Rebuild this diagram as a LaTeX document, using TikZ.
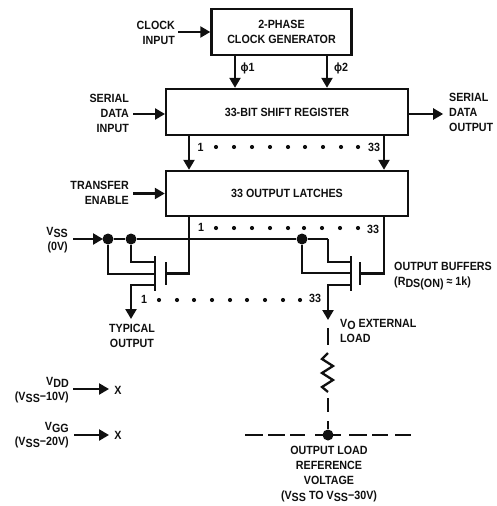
\documentclass[tikz,border=0pt]{standalone}
\usepackage{fontspec}
\setmainfont{Liberation Sans}[FakeStretch=0.9]
\usetikzlibrary{arrows.meta}
\definecolor{ink}{HTML}{101010}
\newcommand{\sbs}[1]{\raisebox{-2.4pt}{#1}}
\tikzset{
  lab/.style={font=\fontsize{11.9}{15}\selectfont\bfseries,text=ink,inner sep=0pt,align=center},
  labr/.style={lab,align=right,anchor=east},
  labl/.style={lab,align=left,anchor=west},
  block/.style={draw=ink,line width=2.4pt,fill=white,inner sep=0pt,font=\fontsize{11.9}{15}\selectfont\bfseries,text=ink,align=center},
  wire/.style={draw=ink,line width=2.3pt},
  arr/.style={wire,-{Triangle[length=10pt,width=11pt]}},
  bar/.style={draw=ink,line width=2.4pt},
  junc/.style={circle,fill=ink,inner sep=0pt,minimum size=11pt},
  bead/.style={circle,fill=ink,inner sep=0pt,minimum size=4.2pt}
}
\begin{document}
\begin{tikzpicture}[x=1pt,y=-1pt]
\useasboundingbox (0,0) rectangle (497,506);
% blocks
\node[block,minimum width=140pt,minimum height=46pt] (clk) at (281.5,32) {2-PHASE\\CLOCK GENERATOR};
\node[block,minimum width=242pt,minimum height=46pt] (sr) at (287,112) {33-BIT SHIFT REGISTER};
\node[block,minimum width=242pt,minimum height=45pt] (lat) at (287,193.5) {33 OUTPUT LATCHES};
% input / output labels
\node[labr] (clkin) at (175,33) {CLOCK\\INPUT};
\node[labr] (sdi) at (129,113) {SERIAL\\DATA\\INPUT};
\node[labl] (sdo) at (449,112) {SERIAL\\DATA\\OUTPUT};
\node[labr] (te) at (129,192.5) {TRANSFER\\ENABLE};
\node[labr] (vss) at (68,240) {V\sbs{SS}\\(0V)};
\node[lab] (typ) at (132,335.5) {TYPICAL\\OUTPUT};
\node[labl] (obuf) at (394,276) {OUTPUT BUFFERS\\(R\sbs{DS(ON)} ≈ 1k)};
\node[labl] (ext) at (340,330.5) {V\sbs{O} EXTERNAL\\LOAD};
\node[labr] (vdd) at (69,390) {V\sbs{DD}\\(V\sbs{SS}−10V)};
\node[labr] (vgg) at (69,435) {V\sbs{GG}\\(V\sbs{SS}−20V)};
\node[lab] (xa) at (118,390) {X};
\node[lab] (xb) at (118,435) {X};
\node[lab] (ref) at (329,474) {OUTPUT LOAD\\REFERENCE\\VOLTAGE\\(V\sbs{SS} TO V\sbs{SS}−30V)};
\node[lab] (p1) at (247.5,68) {ϕ1};
\node[lab] (p2) at (341,68) {ϕ2};
% block connectors
\draw[arr] (clkin.east |- clk.west) ++(3,0) -- (clk.west);
\draw[arr] (clk.south -| 235,0) -- (sr.north -| 235,0);
\draw[arr] (clk.south -| 327,0) -- (sr.north -| 327,0);
\draw[arr] (sdi.east |- sr.west) ++(4,2) -- ++(32,0);
\draw[arr] (sr.east) ++(0,2) -- ++(34,0);
\draw[arr] (te.east |- lat.west) ++(4,0) -- (lat.west);
\draw[arr] (sr.south -| 189,0) -- (lat.north -| 189,0);
\draw[arr] (sr.south -| 384,0) -- (lat.north -| 384,0);
% rail and transistors
\coordinate (railstart) at (73,239);
\node[junc] (ja) at (108,239) {};
\node[junc] (jb) at (131,239) {};
\node[junc] (jc) at (302,239) {};
\node[junc] (jd) at (328,435) {};
\coordinate (railend) at (328,239);
\draw[arr] (railstart) -- (103,239);
\draw[wire] (ja) -- (jb) -- (jc) -- (railend);
% left transistor
\coordinate (lch1) at (155,256); \coordinate (lch2) at (155,291);
\coordinate (lg1) at (166,262); \coordinate (lg2) at (166,285);
\draw[bar] (lch1) -- (lch2);
\draw[bar] (lg1) -- (lg2);
\draw[wire] (189,216) |- (166,273.5);
\draw[wire] (jb) |- (155,262);
\draw[wire] (ja) |- (155,274);
\draw[arr] (155,285) -| (131,319);
% right transistor
\coordinate (rch1) at (351,256); \coordinate (rch2) at (351,291);
\coordinate (rg1) at (360,262); \coordinate (rg2) at (360,285);
\draw[bar] (rch1) -- (rch2);
\draw[bar] (rg1) -- (rg2);
\draw[wire] (384,216) |- (360,273.5);
\draw[wire] (railend) |- (351,262);
\draw[wire] (jc) |- (351,273);
\draw[arr] (351,285) -| (328,320);
% load
\draw[wire] (328,328) -- (328,345);
\draw[wire] (328,353) -- (322,359) -- (333,366) -- (322,373) -- (333,380) -- (322,387) -- (328,392);
\draw[wire] (328,398) -- (328,412);
\draw[wire] (328,421) -- (jd);
\foreach \a/\b in {245/263,268/285,290/305,315/341,349/367,372/388,395/411}
  \draw[wire] (\a,435) -- (\b,435);
% supply arrows
\draw[arr] (73,389) -- (109,389);
\draw[arr] (74,435) -- (109,435);
% dot rows
\node[lab] (n1a) at (200.5,147) {1};
\node[lab] (n33a) at (374,147) {33};
\foreach \x in {216,234,252,270,288,305,323,341,358} \node[bead] at (\x,147) {};
\node[lab] (n1b) at (201,227) {1};
\node[lab] (n33b) at (373,229) {33};
\foreach \x in {216,234,252,270,288,304,322,340,358} \node[bead] at (\x,228) {};
\node[lab] (n1c) at (144,299) {1};
\node[lab] (n33c) at (315,298) {33};
\foreach \x in {159,177,194,212,230,247,265,283,300} \node[bead] at (\x,300) {};
\end{tikzpicture}
\end{document}
